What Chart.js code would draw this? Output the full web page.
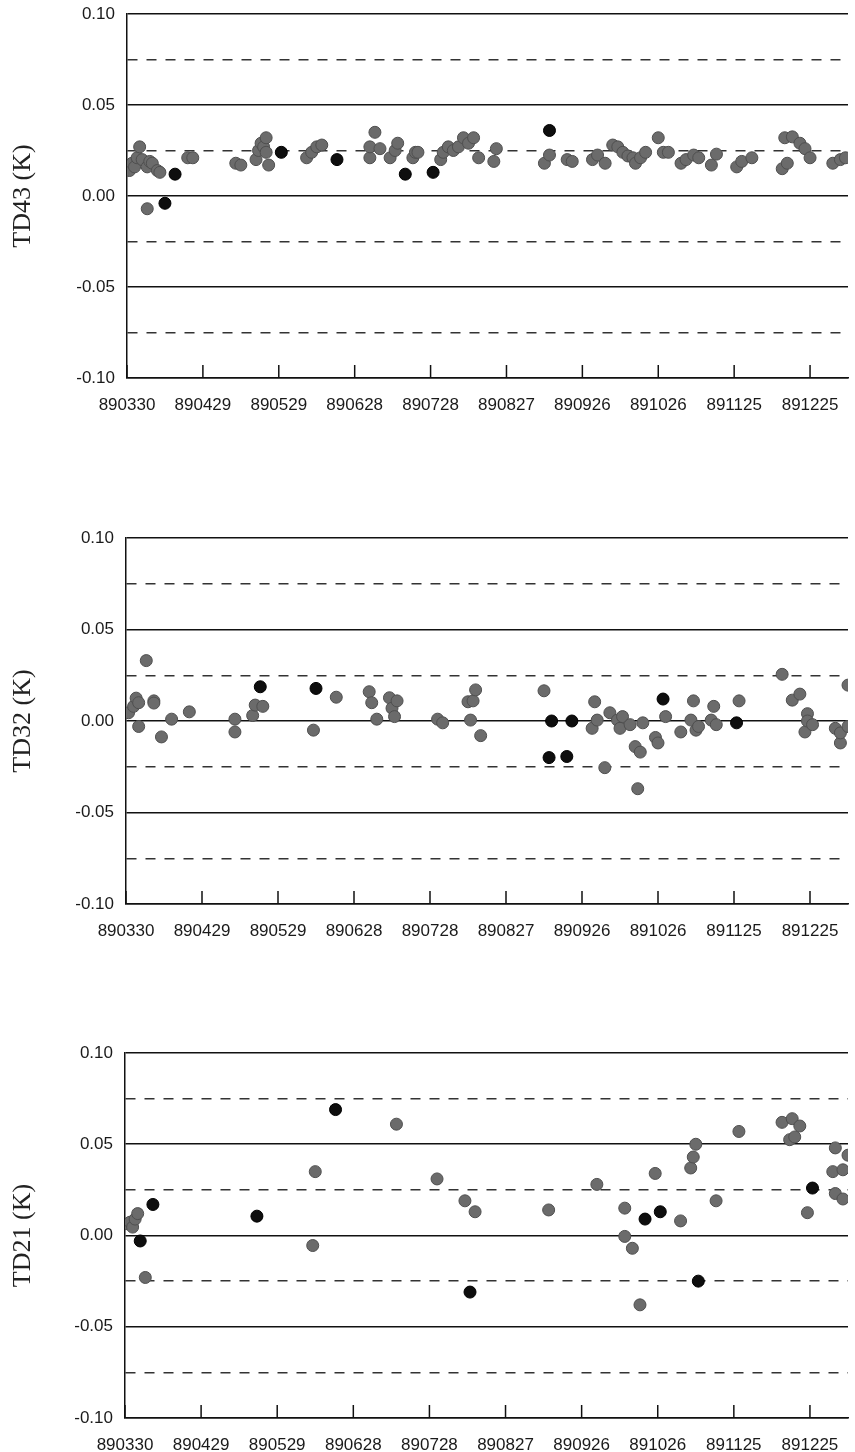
<!DOCTYPE html>
<html>
<head>
<meta charset="utf-8">
<script src="https://cdn.jsdelivr.net/npm/chart.js@4/dist/chart.umd.min.js"></script>
<style>
  html, body { margin: 0; padding: 0; background: #fff; overflow: hidden; }
  .panel { position: absolute; left: 0; }
</style>
</head>
<body>
<div class="panel" style="top:0px"><canvas id="td43" width="855" height="430"></canvas></div>
<div class="panel" style="top:524px"><canvas id="td32" width="855" height="432"></canvas></div>
<div class="panel" style="top:1039px"><canvas id="td21" width="855" height="431"></canvas></div>
<script>
// x = days since 890330
const xTickDays = [0, 30, 60, 90, 120, 150, 180, 210, 240, 270];
const xTickLabels = ['890330', '890429', '890529', '890628', '890728', '890827', '890926', '891026', '891125', '891225'];
const yTickValues = [-0.1, -0.075, -0.05, -0.025, 0, 0.025, 0.05, 0.075, 0.1];

const td43GrayDays = [1, 2, 3, 4, 5, 6, 8, 8, 9, 10, 12, 13, 24, 26, 43, 45, 51, 52, 53, 54, 55, 55, 56, 71, 73, 75, 77, 96, 96, 98, 100, 104, 106, 107, 113, 114, 115, 124, 125, 127, 129, 131, 133, 135, 137, 139, 145, 146, 165, 167, 174, 176, 184, 186, 189, 192, 194, 196, 198, 200, 201, 203, 205, 210, 212, 214, 219, 221, 224, 226, 231, 233, 241, 243, 247, 259, 260, 261, 263, 266, 268, 270, 279, 282, 284];
const td43GrayValues = [0.014, 0.018, 0.016, 0.021, 0.027, 0.020, -0.007, 0.016, 0.019, 0.018, 0.014, 0.013, 0.021, 0.021, 0.018, 0.017, 0.020, 0.025, 0.029, 0.027, 0.024, 0.032, 0.017, 0.021, 0.024, 0.027, 0.028, 0.021, 0.027, 0.035, 0.026, 0.021, 0.025, 0.029, 0.021, 0.024, 0.024, 0.020, 0.024, 0.027, 0.025, 0.027, 0.032, 0.029, 0.032, 0.021, 0.019, 0.026, 0.018, 0.0225, 0.020, 0.019, 0.020, 0.0225, 0.018, 0.028, 0.027, 0.024, 0.022, 0.021, 0.018, 0.021, 0.024, 0.032, 0.024, 0.024, 0.018, 0.020, 0.0225, 0.021, 0.017, 0.023, 0.016, 0.019, 0.021, 0.015, 0.032, 0.018, 0.0325, 0.029, 0.026, 0.021, 0.018, 0.020, 0.021];
const td43BlackDays = [15, 19, 61, 83, 110, 121, 167];
const td43BlackValues = [-0.004, 0.012, 0.024, 0.020, 0.012, 0.013, 0.036];

const td32GrayDays = [1, 3, 4, 5, 5, 8, 11, 11, 14, 18, 25, 43, 43, 50, 51, 54, 74, 83, 96, 97, 99, 104, 105, 106, 107, 123, 125, 135, 136, 137, 138, 140, 165, 184, 185, 186, 189, 191, 194, 195, 196, 199, 201, 202, 203, 204, 209, 210, 213, 219, 223, 224, 225, 226, 231, 232, 233, 242, 259, 263, 266, 268, 269, 269, 271, 280, 282, 282, 285, 285];
const td32GrayValues = [0.0045, 0.008, 0.0125, 0.010, -0.003, 0.033, 0.011, 0.0098, -0.0087, 0.001, 0.005, -0.006, 0.001, 0.003, 0.0087, 0.008, -0.005, 0.013, 0.016, 0.010, 0.001, 0.0127, 0.007, 0.0024, 0.011, 0.001, -0.001, 0.0105, 0.0005, 0.011, 0.017, -0.008, 0.0165, -0.004, 0.0105, 0.0005, -0.0255, 0.0045, 0.0005, -0.004, 0.0024, -0.002, -0.014, -0.037, -0.017, -0.001, -0.009, -0.012, 0.0024, -0.006, 0.0005, 0.011, -0.005, -0.003, 0.0005, 0.008, -0.002, 0.011, 0.0255, 0.0114, 0.0147, -0.006, 0.004, 0.0, -0.002, -0.004, -0.012, -0.0065, 0.0196, -0.003];
const td32BlackDays = [53, 75, 167, 168, 174, 176, 212, 241];
const td32BlackValues = [0.0187, 0.0178, -0.020, 0.0, -0.0194, 0.0, 0.012, -0.001];

const td21GrayDays = [1, 2, 3, 4, 5, 8, 74, 75, 107, 123, 134, 138, 167, 186, 197, 197, 200, 203, 209, 219, 223, 224, 225, 233, 242, 259, 262, 263, 264, 266, 269, 279, 280, 280, 283, 283, 285];
const td21GrayValues = [0.0064, 0.0073, 0.0046, 0.009, 0.012, -0.023, -0.0055, 0.035, 0.061, 0.031, 0.019, 0.013, 0.014, 0.028, -0.0005, 0.015, -0.007, -0.038, 0.034, 0.008, 0.037, 0.043, 0.050, 0.019, 0.057, 0.062, 0.0525, 0.064, 0.054, 0.060, 0.0125, 0.035, 0.048, 0.023, 0.036, 0.020, 0.044];
const td21BlackDays = [6, 11, 52, 83, 136, 205, 211, 226, 271];
const td21BlackValues = [-0.003, 0.017, 0.0106, 0.069, -0.031, 0.009, 0.013, -0.025, 0.026];

function toPoints(days, values) {
    return days.map((d, i) => ({x: d, y: values[i]}));
}

const innerTicks = {
    id: 'innerTicks',
    afterDraw(chart) {
        const xs = chart.scales.x;
        const ctx = chart.ctx;
        const bottom = chart.chartArea.bottom;
        ctx.save();
        ctx.strokeStyle = '#111';
        ctx.lineWidth = 1.5;
        xTickDays.forEach(d => {
            const x = xs.getPixelForValue(d);
            ctx.beginPath();
            ctx.moveTo(x, bottom);
            ctx.lineTo(x, bottom - 13);
            ctx.stroke();
        });
        ctx.restore();
    }
};

function isDashed(v) {
    return Math.abs(Math.round(v / 0.025)) % 2 === 1;
}

function makeChart(id, title, left, gray, black) {
    const ctx = document.getElementById(id).getContext('2d');
    return new Chart(ctx, {
        type: 'scatter',
        data: {
            datasets: [{
                label: 'gray',
                data: gray,
                backgroundColor: '#6b6b6b',
                borderColor: '#4f4f4f',
                borderWidth: 1,
                pointRadius: 6
            }, {
                label: 'black',
                data: black,
                backgroundColor: '#0e0e0e',
                borderColor: '#000',
                borderWidth: 1,
                pointRadius: 6
            }]
        },
        options: {
            responsive: false,
            animation: false,
            layout: { padding: { top: 14, left: 0, right: 0, bottom: 0 } },
            plugins: {
                legend: { display: false },
                tooltip: { enabled: false }
            },
            scales: {
                x: {
                    type: 'linear',
                    min: 0,
                    max: 285,
                    afterFit: s => { s.height = 52; s.paddingLeft = 0; s.paddingRight = 0; },
                    afterBuildTicks: s => { s.ticks = xTickDays.map(v => ({value: v})); },
                    grid: { display: false, drawTicks: false },
                    border: { display: true, color: '#111', width: 1.5 },
                    ticks: {
                        padding: 17,
                        maxRotation: 0,
                        autoSkip: false,
                        color: '#1a1a1a',
                        font: { family: 'Liberation Sans', size: 17 },
                        callback: v => xTickLabels[xTickDays.indexOf(v)]
                    }
                },
                y: {
                    min: -0.1,
                    max: 0.1,
                    afterFit: s => { s.width = left; s.paddingTop = 0; s.paddingBottom = 0; },
                    afterBuildTicks: s => { s.ticks = yTickValues.map(v => ({value: v})); },
                    grid: {
                        drawTicks: false,
                        lineWidth: 1.5,
                        color: c => (c.tick && isDashed(c.tick.value)) ? '#333' : '#111'
                    },
                    border: {
                        display: true,
                        color: '#111',
                        width: 1.5,
                        dash: c => (c.tick && isDashed(c.tick.value)) ? [10, 9] : []
                    },
                    title: {
                        display: true,
                        text: title,
                        color: '#222',
                        font: { family: 'Liberation Serif', size: 26 },
                        padding: { top: 8, bottom: 0 }
                    },
                    ticks: {
                        padding: 12,
                        color: '#1a1a1a',
                        font: { family: 'Liberation Sans', size: 17 },
                        callback: v => isDashed(v) ? '' : v.toFixed(2)
                    }
                }
            }
        },
        plugins: [innerTicks]
    });
}

makeChart('td43', 'TD43 (K)', 127, toPoints(td43GrayDays, td43GrayValues), toPoints(td43BlackDays, td43BlackValues));
makeChart('td32', 'TD32 (K)', 126, toPoints(td32GrayDays, td32GrayValues), toPoints(td32BlackDays, td32BlackValues));
makeChart('td21', 'TD21 (K)', 125, toPoints(td21GrayDays, td21GrayValues), toPoints(td21BlackDays, td21BlackValues));
</script>
</body>
</html>
